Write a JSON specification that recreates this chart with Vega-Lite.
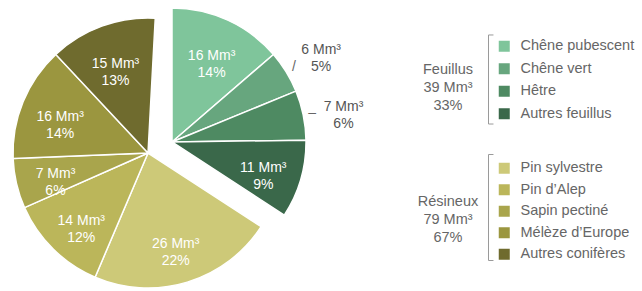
{
  "$schema": "https://vega.github.io/schema/vega-lite/v6.json",
  "width": 642,
  "height": 291,
  "padding": 0,
  "autosize": {"type": "none"},
  "background": "white",
  "config": {"view": {"stroke": null}, "font": "Liberation Sans", "text": {"font": "Liberation Sans"}},
  "data": {
    "values": [
      {"espece": "Chêne pubescent", "groupe": "Feuillus", "valeur": 16, "etiquette": "16 Mm³\n14%", "ordre": 1},
      {"espece": "Chêne vert", "groupe": "Feuillus", "valeur": 6, "etiquette": "6 Mm³\n5%", "ordre": 2},
      {"espece": "Hêtre", "groupe": "Feuillus", "valeur": 7, "etiquette": "7 Mm³\n6%", "ordre": 3},
      {"espece": "Autres feuillus", "groupe": "Feuillus", "valeur": 11, "etiquette": "11 Mm³\n9%", "ordre": 4},
      {"espece": "Pin sylvestre", "groupe": "Résineux", "valeur": 26, "etiquette": "26 Mm³\n22%", "ordre": 5},
      {"espece": "Pin d’Alep", "groupe": "Résineux", "valeur": 14, "etiquette": "14 Mm³\n12%", "ordre": 6},
      {"espece": "Sapin pectiné", "groupe": "Résineux", "valeur": 7, "etiquette": "7 Mm³\n6%", "ordre": 7},
      {"espece": "Mélèze d’Europe", "groupe": "Résineux", "valeur": 16, "etiquette": "16 Mm³\n14%", "ordre": 8},
      {"espece": "Autres conifères", "groupe": "Résineux", "valeur": 15, "etiquette": "15 Mm³\n13%", "ordre": 9}
    ]
  },
  "layer": [
    {
      "transform": [
        {"stack": "valeur", "groupby": [], "sort": [{"field": "ordre", "order": "ascending"}], "as": ["debut", "fin"]},
        {"filter": "datum.groupe === 'Feuillus'"}
      ],
      "mark": {"type": "arc", "radius": 134, "stroke": "white", "strokeWidth": 1.5},
      "encoding": {
        "x": {"field": "groupe", "type": "nominal", "scale": {"type": "point", "domain": ["Feuillus", "Résineux"], "range": [172, 148], "padding": 0}, "axis": null},
        "y": {"field": "groupe", "type": "nominal", "scale": {"type": "point", "domain": ["Feuillus", "Résineux"], "range": [142, 153], "padding": 0}, "axis": null},
        "theta": {"field": "debut", "type": "quantitative", "scale": {"domain": [0, 117], "nice": false}},
        "theta2": {"field": "fin"},
        "color": {
          "field": "espece", "type": "nominal",
          "scale": {"domain": ["Chêne pubescent", "Chêne vert", "Hêtre", "Autres feuillus"], "range": ["#7fc59b", "#67a67e", "#4e8a62", "#3a684a"]},
          "legend": {
            "orient": "none", "legendX": 488, "legendY": 35, "title": null,
            "symbolType": "square", "symbolSize": 121, "symbolStrokeWidth": 0, "symbolOffset": 5,
            "labelOffset": 9, "labelFontSize": 14.5, "labelColor": "#666666", "labelFont": "Liberation Sans", "labelLimit": 250,
            "rowPadding": 7.5, "padding": 4
          }
        }
      }
    },
    {
      "transform": [
        {"stack": "valeur", "groupby": [], "sort": [{"field": "ordre", "order": "ascending"}], "as": ["debut", "fin"]},
        {"filter": "datum.groupe === 'Résineux'"}
      ],
      "mark": {"type": "arc", "radius": 135, "stroke": "white", "strokeWidth": 1.5},
      "encoding": {
        "x": {"field": "groupe", "type": "nominal", "scale": {"type": "point", "domain": ["Feuillus", "Résineux"], "range": [172, 148], "padding": 0}, "axis": null},
        "y": {"field": "groupe", "type": "nominal", "scale": {"type": "point", "domain": ["Feuillus", "Résineux"], "range": [142, 153], "padding": 0}, "axis": null},
        "theta": {"field": "debut", "type": "quantitative", "scale": {"domain": [0, 117], "nice": false}},
        "theta2": {"field": "fin"},
        "color": {
          "field": "espece", "type": "nominal",
          "scale": {"domain": ["Pin sylvestre", "Pin d’Alep", "Sapin pectiné", "Mélèze d’Europe", "Autres conifères"], "range": ["#cdc978", "#bbb65a", "#a9a54c", "#9b963f", "#6f6b2e"]},
          "legend": {
            "orient": "none", "legendX": 488, "legendY": 157, "title": null,
            "symbolType": "square", "symbolSize": 121, "symbolStrokeWidth": 0, "symbolOffset": 5,
            "labelOffset": 9, "labelFontSize": 14.5, "labelColor": "#666666", "labelFont": "Liberation Sans", "labelLimit": 250,
            "rowPadding": 6.5, "padding": 4
          }
        }
      }
    },
    {
      "mark": {"type": "text", "radius": 95, "color": "white", "fontSize": 14, "lineBreak": "\n", "lineHeight": 17, "align": "center", "baseline": "middle"},
      "encoding": {
        "x": {"field": "groupe", "type": "nominal", "scale": {"type": "point", "domain": ["Feuillus", "Résineux"], "range": [172, 148], "padding": 0}, "axis": null},
        "y": {"field": "groupe", "type": "nominal", "scale": {"type": "point", "domain": ["Feuillus", "Résineux"], "range": [142, 153], "padding": 0}, "axis": null},
        "theta": {"field": "valeur", "type": "quantitative", "stack": true, "scale": {"domain": [0, 117], "nice": false}},
        "order": {"field": "ordre", "type": "quantitative"},
        "text": {"condition": {"test": "datum.espece === 'Chêne vert' || datum.espece === 'Hêtre'", "value": ""}, "field": "etiquette", "type": "nominal"}
      }
    },
    {
      "mark": {"type": "text", "radius": 175, "color": "#555555", "fontSize": 14, "lineBreak": "\n", "lineHeight": 17, "align": "center", "baseline": "middle"},
      "encoding": {
        "x": {"field": "groupe", "type": "nominal", "scale": {"type": "point", "domain": ["Feuillus", "Résineux"], "range": [172, 148], "padding": 0}, "axis": null},
        "y": {"field": "groupe", "type": "nominal", "scale": {"type": "point", "domain": ["Feuillus", "Résineux"], "range": [142, 153], "padding": 0}, "axis": null},
        "theta": {"field": "valeur", "type": "quantitative", "stack": true, "scale": {"domain": [0, 117], "nice": false}},
        "order": {"field": "ordre", "type": "quantitative"},
        "text": {"condition": {"test": "!(datum.espece === 'Chêne vert' || datum.espece === 'Hêtre')", "value": ""}, "field": "etiquette", "type": "nominal"}
      }
    },
    {
      "mark": {"type": "text", "radius": 143, "color": "#666666", "fontSize": 14, "align": "center", "baseline": "middle"},
      "encoding": {
        "x": {"field": "groupe", "type": "nominal", "scale": {"type": "point", "domain": ["Feuillus", "Résineux"], "range": [172, 148], "padding": 0}, "axis": null},
        "y": {"field": "groupe", "type": "nominal", "scale": {"type": "point", "domain": ["Feuillus", "Résineux"], "range": [142, 153], "padding": 0}, "axis": null},
        "theta": {"field": "valeur", "type": "quantitative", "stack": true, "scale": {"domain": [0, 117], "nice": false}},
        "order": {"field": "ordre", "type": "quantitative"},
        "text": {"condition": [{"test": "datum.espece === 'Chêne vert'", "value": "/"}, {"test": "datum.espece === 'Hêtre'", "value": "–"}], "value": ""}
      }
    },
    {
      "data": {"values": [
        {"groupe": "Feuillus", "texte": "Feuillus\n39 Mm³\n33%"},
        {"groupe": "Résineux", "texte": "Résineux\n79 Mm³\n67%"}
      ]},
      "layer": [
        {
          "mark": {"type": "text", "color": "#666666", "fontSize": 14.5, "lineBreak": "\n", "lineHeight": 18, "align": "center", "baseline": "middle"},
          "encoding": {
            "x": {"field": "groupe", "type": "nominal", "scale": {"type": "point", "domain": ["Feuillus", "Résineux"], "range": [448, 448], "padding": 0}, "axis": null},
            "y": {"field": "groupe", "type": "nominal", "scale": {"type": "point", "domain": ["Feuillus", "Résineux"], "range": [70, 202], "padding": 0}, "axis": null},
            "text": {"field": "texte", "type": "nominal"}
          }
        },
        {
          "mark": {"type": "point", "opacity": 0, "filled": false, "color": "#9a9a9a", "strokeWidth": 1},
          "encoding": {
            "x": {"field": "groupe", "type": "nominal", "scale": {"type": "point", "domain": ["Feuillus", "Résineux"], "range": [448, 448], "padding": 0}, "axis": null},
            "y": {"field": "groupe", "type": "nominal", "scale": {"type": "point", "domain": ["Feuillus", "Résineux"], "range": [70, 202], "padding": 0}, "axis": null},
            "shape": {
              "field": "groupe", "type": "nominal",
              "scale": {"domain": ["Feuillus", "Résineux"], "range": ["M0.094,-0.84H0V0.84H0.094", "M0.094,-1H0V1H0.094"]},
              "legend": {
                "orient": "none", "legendX": 435, "legendY": 26, "title": null, "direction": "vertical", "columns": 1,
                "symbolSize": 11236, "symbolOpacity": 1, "symbolFillColor": "transparent", "symbolStrokeColor": "#9a9a9a", "symbolStrokeWidth": 1,
                "symbolOffset": 0, "padding": 0, "rowPadding": 25, "labelExpr": "''", "labelFontSize": 1
              }
            }
          }
        }
      ],
      "resolve": {"scale": {"shape": "independent"}}
    }
  ],
  "resolve": {"scale": {"x": "independent", "y": "independent", "color": "independent", "shape": "independent"}}
}
